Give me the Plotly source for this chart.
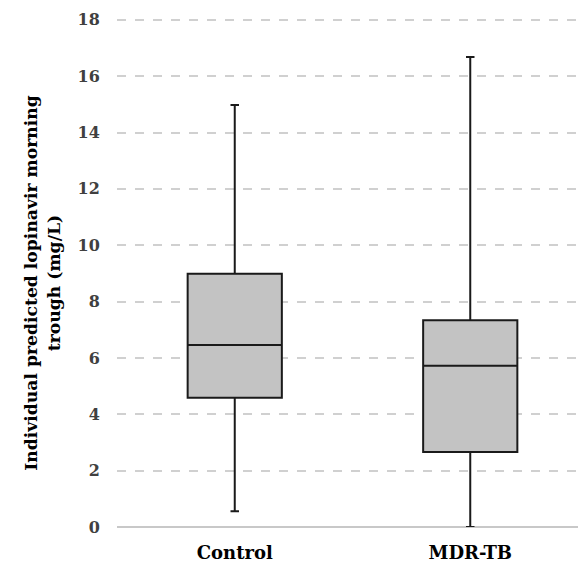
import plotly.graph_objects as go

categories = ["Control", "MDR-TB"]
lower_whisker = [0.56, 0.0]
q1 = [4.59, 2.66]
median = [6.46, 5.72]
q3 = [8.99, 7.34]
upper_whisker = [14.98, 16.68]
y_ticks = [0, 2, 4, 6, 8, 10, 12, 14, 16, 18]
y_title = "Individual predicted lopinavir morning<br>trough (mg/L)"

FONT = "DejaVu Serif"

fig = go.Figure()
fig.add_trace(go.Box(
    x=categories,
    q1=q1, median=median, q3=q3,
    lowerfence=lower_whisker, upperfence=upper_whisker,
    fillcolor="#c3c3c3",
    line=dict(color="#1a1a1a", width=2),
    whiskerwidth=0.09,
    boxpoints=False,
    hoverinfo="skip",
    showlegend=False,
))

# the page body adds an 8px offset; margins compensate for it
fig.update_layout(
    width=586, height=563,
    margin=dict(l=109, r=6, t=9, b=44, autoexpand=False),
    plot_bgcolor="white", paper_bgcolor="white",
    boxgap=0.6, boxgroupgap=0,
    font=dict(family=FONT),
)
fig.update_xaxes(
    automargin=False,
    showgrid=False, showline=False, zeroline=False,
    ticks="outside", ticklen=9, tickcolor="rgba(0,0,0,0)",
    tickfont=dict(family=FONT, size=18, color="black", weight="bold"),
)
fig.update_yaxes(
    automargin=False,
    range=[0, 18.1], tickvals=y_ticks,
    showgrid=True, gridcolor="#d0d0d0", griddash="dash", gridwidth=1.5,
    zeroline=True, zerolinecolor="#c8c8c8", zerolinewidth=2,
    showline=False,
    ticks="outside", ticklen=13, tickcolor="rgba(0,0,0,0)",
    tickfont=dict(family=FONT, size=16, color="#404040", weight="bold"),
)
fig.add_annotation(
    text=y_title, textangle=-90,
    xref="paper", yref="paper", x=-0.159, y=0.479,
    xanchor="center", yanchor="middle", showarrow=False,
    font=dict(family=FONT, size=17.2, color="black", weight="bold"),
)

fig.write_html("out.html")
